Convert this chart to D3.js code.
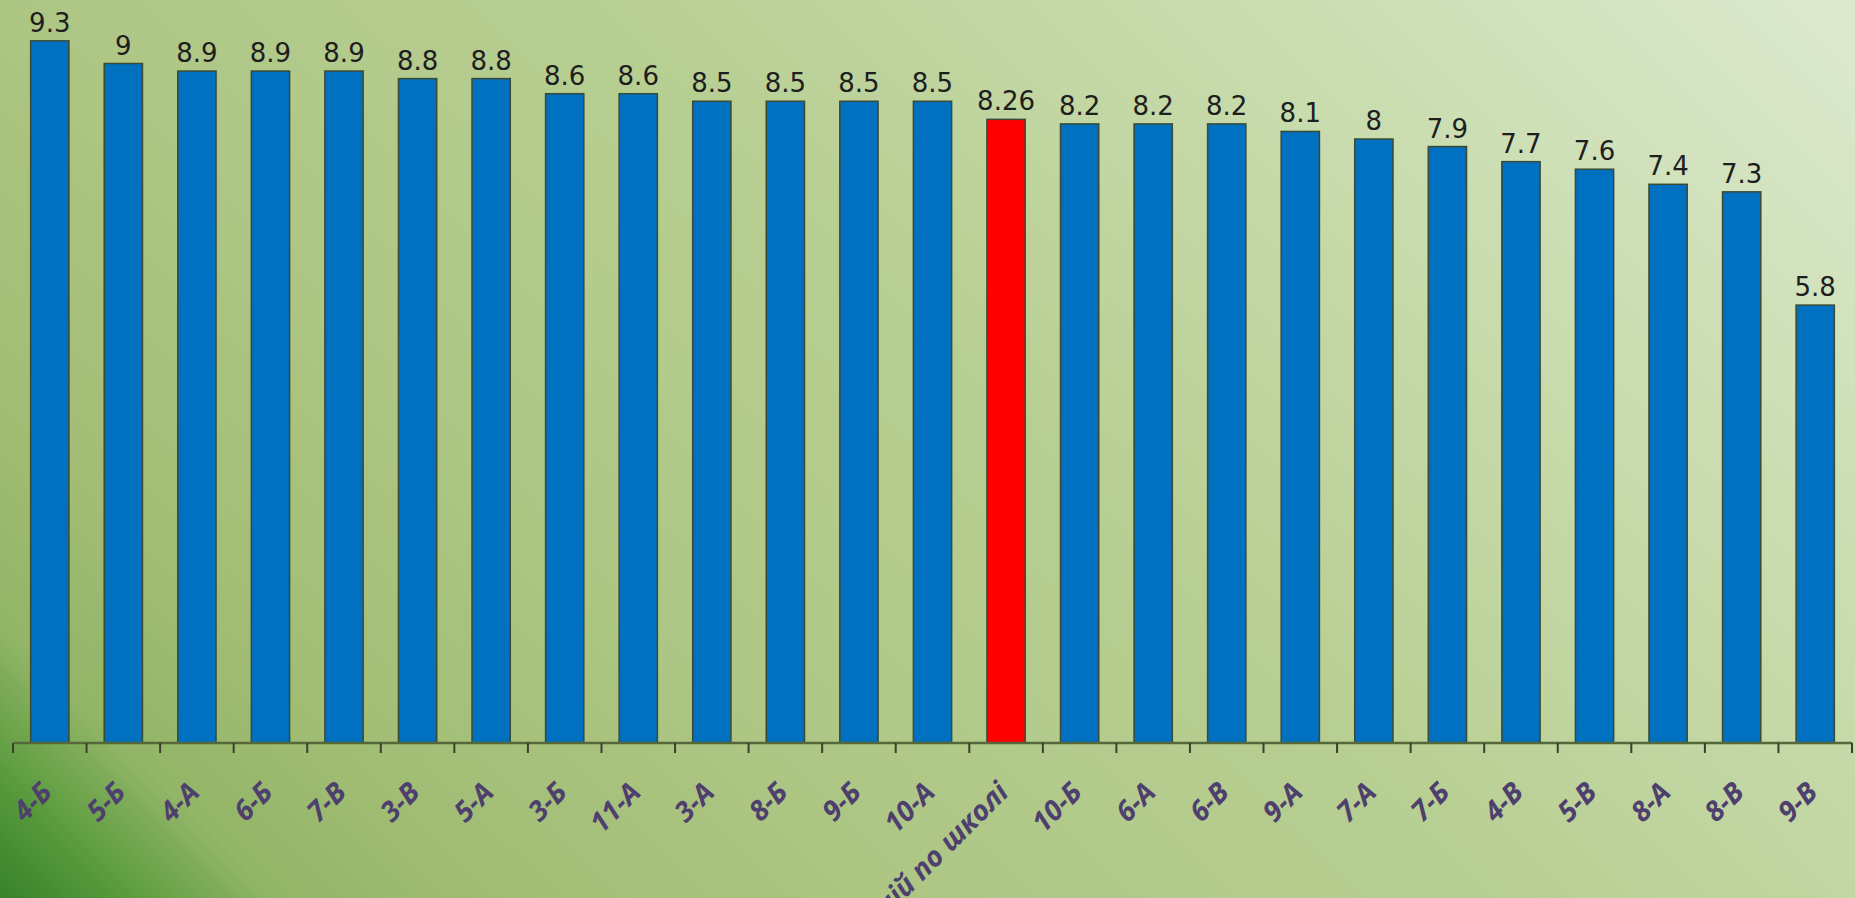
<!DOCTYPE html>
<html>
<head>
<meta charset="utf-8">
<script src="https://cdn.jsdelivr.net/npm/d3@7"></script>
<style>
  html, body { margin: 0; padding: 0; overflow: hidden; }
  svg { display: block; }
</style>
</head>
<body>
<svg id="chart" width="1855" height="898"></svg>
<script>
const categories = ["4-Б","5-Б","4-А","6-Б","7-В","3-В","5-А","3-Б","11-А","3-А","8-Б","9-Б","10-А","Середній по школі","10-Б","6-А","6-В","9-А","7-А","7-Б","4-В","5-В","8-А","8-В","9-В"];
const values = [9.3,9,8.9,8.9,8.9,8.8,8.8,8.6,8.6,8.5,8.5,8.5,8.5,8.26,8.2,8.2,8.2,8.1,8,7.9,7.7,7.6,7.4,7.3,5.8];
const valueLabels = ["9.3","9","8.9","8.9","8.9","8.8","8.8","8.6","8.6","8.5","8.5","8.5","8.5","8.26","8.2","8.2","8.2","8.1","8","7.9","7.7","7.6","7.4","7.3","5.8"];
const highlightCategory = "Середній по школі";
const yDomain = [0, 10];

const W = 1855, H = 898;
const svg = d3.select("#chart");

// background gradient
const defs = svg.append("defs");
const grad = defs.append("linearGradient")
  .attr("id", "bg").attr("gradientUnits", "userSpaceOnUse")
  .attr("x1", 0).attr("y1", H).attr("x2", (W + H) / 2).attr("y2", H - (W + H) / 2);
[[0, "#37822a"], [0.045, "#589a3c"], [0.1, "#92b567"], [0.18, "#a1bd74"], [0.33, "#adc684"],
 [0.55, "#b8cf93"], [0.8, "#cbdeb2"], [1, "#dce9cf"]].forEach(([o, c]) =>
  grad.append("stop").attr("offset", o).attr("stop-color", c));
svg.append("rect").attr("width", W).attr("height", H).attr("fill", "url(#bg)");

const axisY = 743;
const x = d3.scaleBand().domain(categories).range([13, 1852]).paddingInner(0.48).paddingOuter(0.24);
const y = d3.scaleLinear().domain(yDomain).range([axisY, -12]);
const data = categories.map((c, i) => ({ c, v: values[i], lab: valueLabels[i] }));

// bars
svg.append("g").selectAll("rect").data(data).join("rect")
  .attr("x", d => x(d.c))
  .attr("y", d => y(d.v))
  .attr("width", x.bandwidth())
  .attr("height", d => y(0) - y(d.v))
  .attr("fill", d => d.c === highlightCategory ? "#ff0000" : "#0070c0")
  .attr("stroke", "#3b4a34")
  .attr("stroke-width", 1.5);

// axis line and ticks at band boundaries
const step = x.step();
const boundaries = d3.range(categories.length + 1).map(i => x.range()[0] + i * step);
const axis = svg.append("g");
axis.append("line").attr("x1", x.range()[0]).attr("x2", x.range()[1])
  .attr("y1", axisY).attr("y2", axisY).attr("stroke", "#56683a").attr("stroke-width", 2.5);
axis.selectAll("line.tick").data(boundaries).join("line").attr("class", "tick")
  .attr("x1", d => d).attr("x2", d => d).attr("y1", axisY).attr("y2", axisY + 10)
  .attr("stroke", "#3b3f30").attr("stroke-width", 2);

// value labels
svg.append("g").selectAll("text").data(data).join("text")
  .attr("x", d => x(d.c) + x.bandwidth() / 2)
  .attr("y", d => y(d.v) - 9)
  .attr("text-anchor", "middle")
  .attr("font-family", "DejaVu Sans, sans-serif")
  .attr("font-size", 26)
  .attr("fill", "#1e1e1e")
  .text(d => d.lab);

// category labels
svg.append("g").selectAll("text").data(data).join("text")
  .attr("transform", d => `translate(${x(d.c) + x.bandwidth() / 2 + 4},${axisY + 51}) rotate(-45)`)
  .attr("text-anchor", "end")
  .attr("font-family", "Open Sans, sans-serif")
  .attr("font-style", "italic")
  .attr("font-weight", "bold")
  .attr("font-size", 28)
  .attr("fill", "#4e3f6e")
  .text(d => d.c);
</script>
</body>
</html>
